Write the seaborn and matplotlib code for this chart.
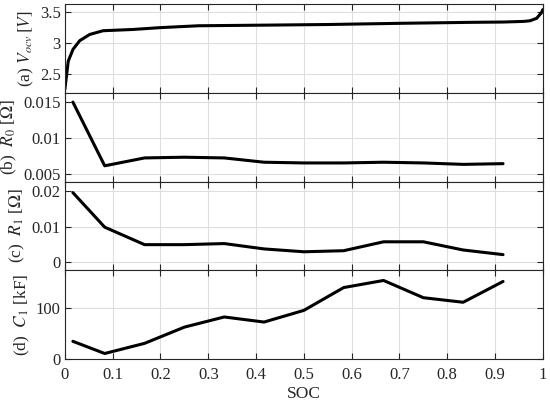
import numpy as np
import pandas as pd
import matplotlib
matplotlib.use("Agg")
import matplotlib.pyplot as plt
import seaborn as sns
from matplotlib.ticker import FormatStrFormatter, MultipleLocator

# ----------------------------------------------------------------------
# Data
# ----------------------------------------------------------------------
soc_ocv = [0.0, 0.007, 0.017, 0.031, 0.052, 0.08, 0.142, 0.2, 0.28, 0.42,
           0.55, 0.707, 0.85, 0.917, 0.96, 0.973, 0.987, 0.997, 1.0]
v_ocv = [2.26, 2.71, 2.90, 3.04, 3.14, 3.20, 3.22, 3.25, 3.28, 3.29,
         3.30, 3.32, 3.335, 3.34, 3.35, 3.36, 3.40, 3.49, 3.54]

soc_par = [0.0167, 0.0833, 0.1667, 0.25, 0.3333, 0.4167, 0.5, 0.5833,
           0.6667, 0.75, 0.8333, 0.9167]
r0 = [0.0150, 0.0061, 0.0072, 0.0073, 0.0072, 0.0066, 0.0065, 0.0065,
      0.0066, 0.0065, 0.0063, 0.0064]
r1 = [0.0196, 0.0099, 0.0050, 0.0050, 0.0053, 0.0038, 0.0030, 0.0033,
      0.0058, 0.0058, 0.0035, 0.0022]
c1 = [35, 11, 31, 63, 83, 73, 96, 141, 155, 121, 112, 153]

sns.set_theme(style="ticks")
plt.rcParams["font.family"] = ["Liberation Serif", "DejaVu Serif"]
plt.rcParams["mathtext.fontset"] = "stix"
plt.rcParams["font.size"] = 12

fig, axes = plt.subplots(4, 1, figsize=(5.5, 4.03), dpi=100, sharex=True)
fig.subplots_adjust(left=0.118, right=0.987, top=0.990, bottom=0.109, hspace=0)

panels = [
    (soc_ocv, v_ocv, r"(a) $V_{ocv}\,[V]$", (2.2, 3.63), [2.5, 3, 3.5]),
    (soc_par, r0, r"(b)  $R_0$ [$\Omega$]", (0.0039, 0.0163), [0.005, 0.01, 0.015]),
    (soc_par, r1, r"(c)  $R_1$ [$\Omega$]", (-0.0022, 0.0227), [0, 0.01, 0.02]),
    (soc_par, c1, r"(d)  $C_1$ [kF]", (0, 175), [0, 100]),
]

for ax, (x, y, label, ylim, yticks) in zip(axes, panels):
    df = pd.DataFrame({"SOC": x, "val": y})
    sns.lineplot(data=df, x="SOC", y="val", ax=ax, color="black", linewidth=2.2)
    ax.set_xlim(0, 1)
    ax.set_ylim(*ylim)
    ax.set_yticks(yticks)
    ax.yaxis.set_major_formatter(FormatStrFormatter("%g"))
    ax.xaxis.set_major_locator(MultipleLocator(0.1))
    ax.xaxis.set_major_formatter(FormatStrFormatter("%g"))
    ax.set_ylabel(label, fontsize=12.5, labelpad=3)
    ax.set_xlabel("")
    ax.grid(True, color="#dedede", linewidth=0.8)
    ax.tick_params(axis="y", pad=3)
    ax.tick_params(axis="x", pad=6)
    ax.tick_params(direction="in", top=True, right=True, length=4,
                   width=0.8, color="#262626", labelsize=12)
    for sp in ax.spines.values():
        sp.set_color("#262626")
        sp.set_linewidth(0.8)

axes[-1].set_xlabel("SOC", fontsize=12.5, labelpad=2)

plt.savefig("out.png", dpi=100)
plt.close()
